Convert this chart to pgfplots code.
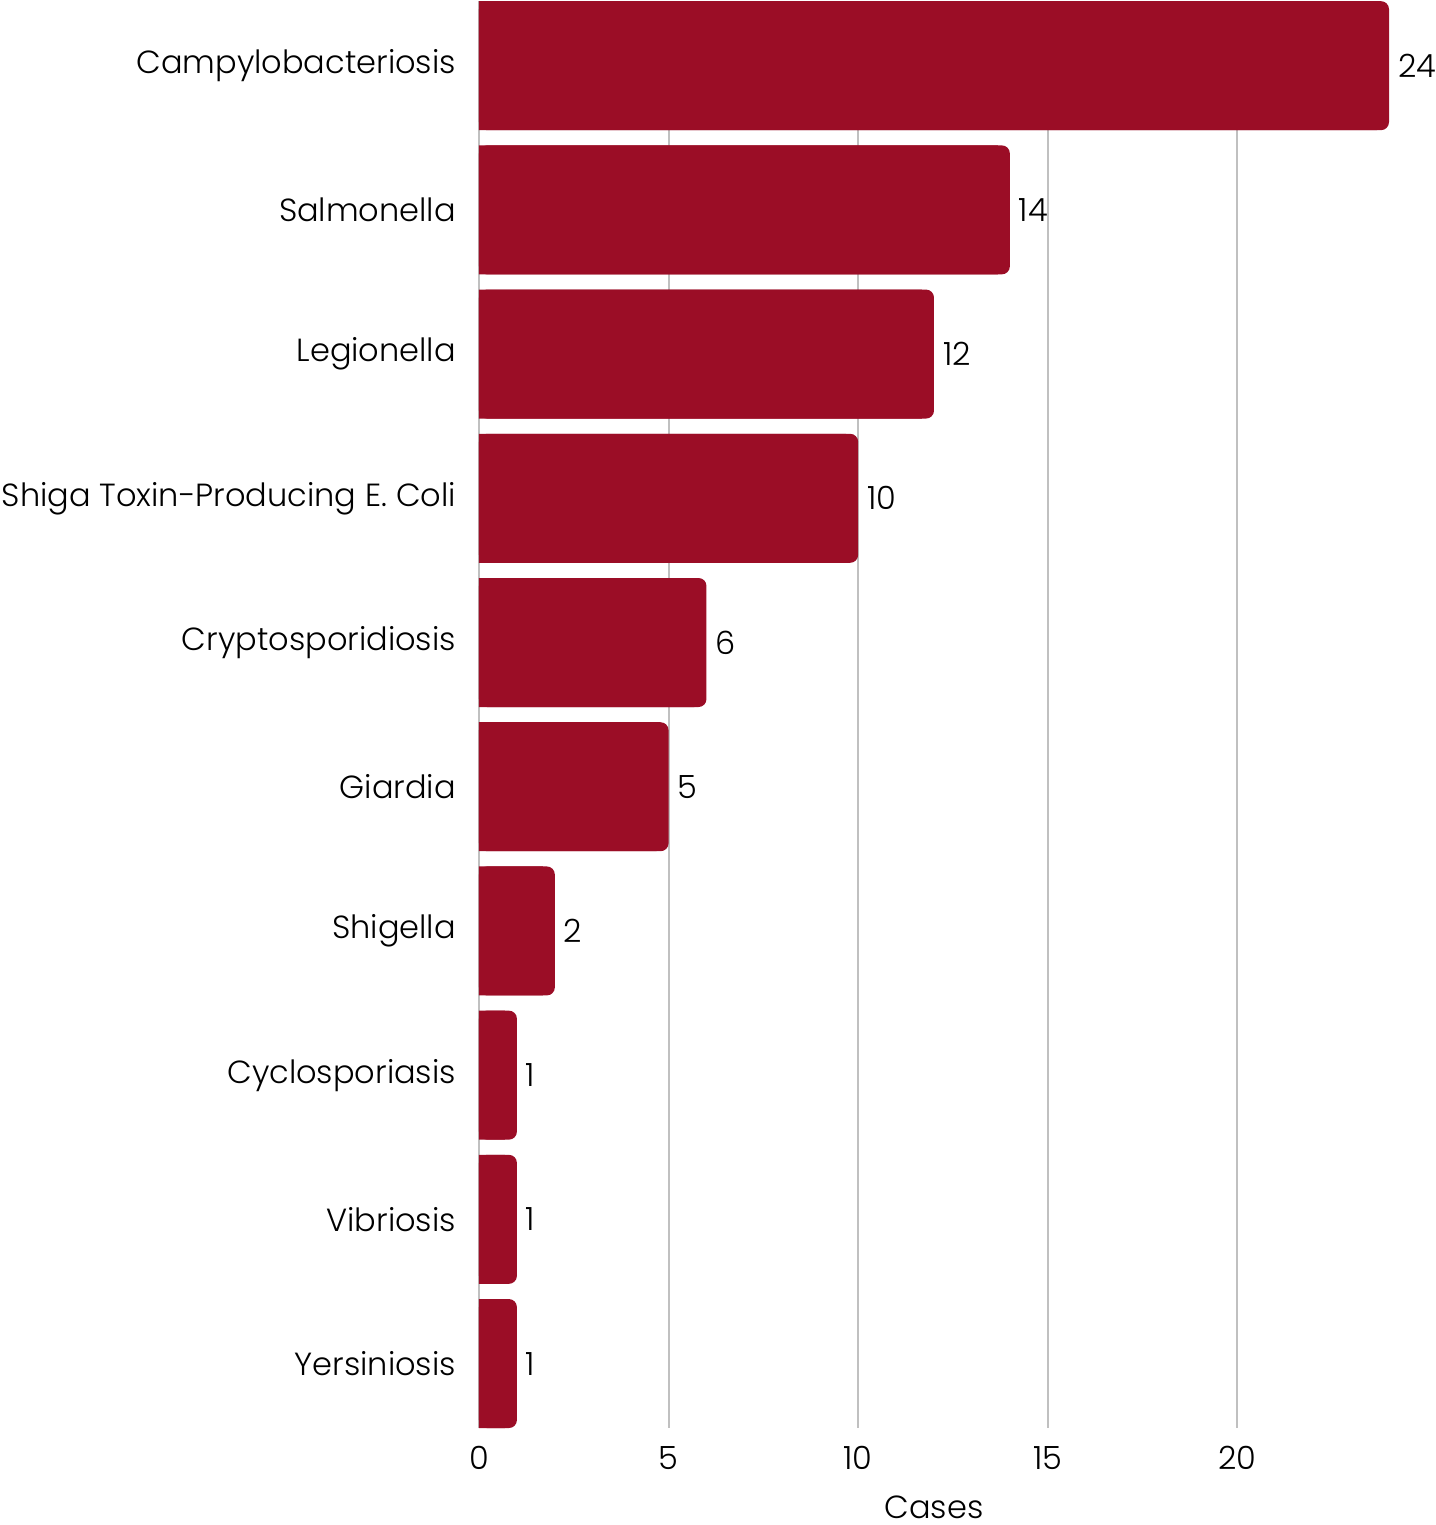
\documentclass[border=0pt]{standalone}
\usepackage{fontspec}
\setmainfont{Poppins}[UprightFont=* Light]
\usepackage{pgfplots}
\usepackage{pgfplotstable}
\pgfplotsset{compat=1.18}
\definecolor{barred}{RGB}{155,13,38}
\definecolor{gridgray}{RGB}{192,192,192}
\pgfplotstableread{
idx cases
0 24
1 14
2 12
3 10
4 6
5 5
6 2
7 1
8 1
9 1
}\datatable
\newcommand{\lblfont}{\fontsize{16}{19.5}\selectfont}
\begin{document}
\begin{tikzpicture}
\begin{axis}[
  at={(0,0)}, anchor=south west,
  scale only axis, width=455pt, height=713.4pt,
  xmin=0, xmax=24, ymin=-0.447, ymax=9.447, y dir=reverse,
  axis line style={draw=none},
  major tick length=0pt,
  xtick={0,5,10,15,20},
  ytick={0,...,9},
  yticklabels={Campylobacteriosis,Salmonella,Legionella,Shiga Toxin-Producing E. Coli,Cryptosporidiosis,Giardia,Shigella,Cyclosporiasis,Vibriosis,Yersiniosis},
  xmajorgrids,
  major grid style={gridgray, line width=1pt},
  /pgf/number format/assume math mode=true,
  tick label style={font=\lblfont, text=black},
  xticklabel style={yshift=-5.5pt},
  yticklabel style={xshift=-8pt},
  xlabel={Cases},
  xlabel style={font=\lblfont, yshift=-9.5pt, inner sep=0pt},
]
\addplot[xbar, bar shift=0pt, bar width=64.5pt, fill=barred, draw=none, xshift=-6pt] table[x=cases,y=idx]{\datatable};
\addplot[xbar, bar shift=0pt, bar width=64.5pt, fill=barred, draw=none, rounded corners=4pt,
  nodes near coords, nodes near coords align={horizontal},
  every node near coord/.append style={font=\lblfont, text=black, anchor=west, xshift=1pt, /pgf/number format/assume math mode=true}] table[x=cases,y=idx]{\datatable};
\end{axis}
\pgfresetboundingbox
\path[use as bounding box] (-239.5pt,-48.5pt) rectangle (478pt,714pt);
\end{tikzpicture}
\end{document}
